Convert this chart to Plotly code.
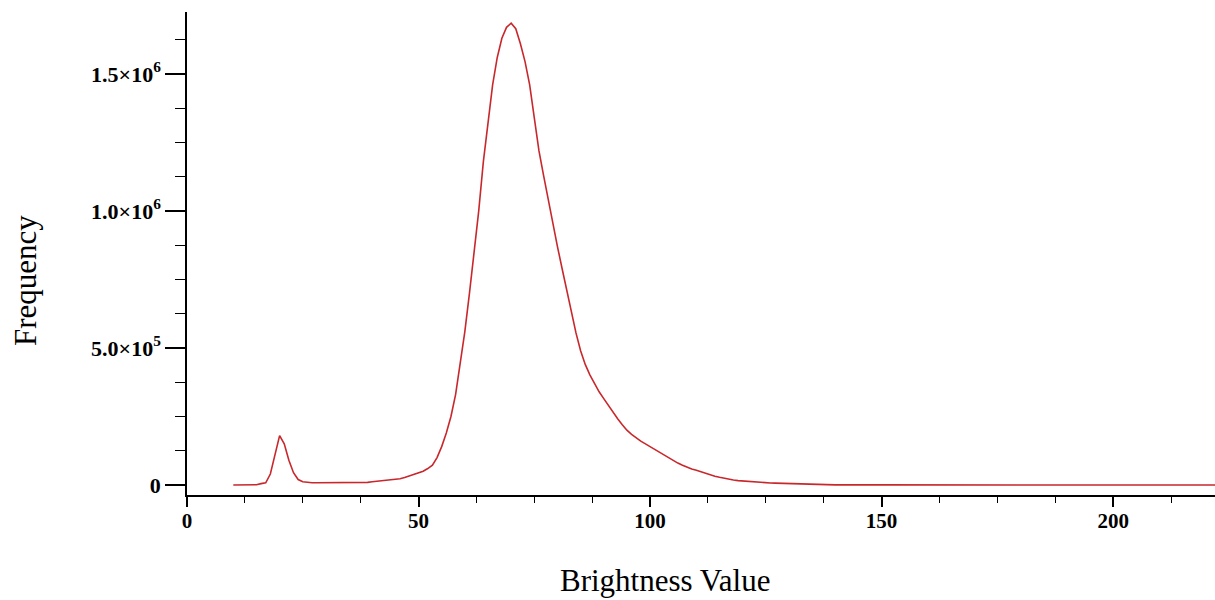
import plotly.graph_objects as go

brightness = list(range(10, 136)) + [140, 150, 160, 180, 200, 220, 240, 255]
frequency = [
    0, 0, 0, 0, 500, 1000, 5000, 8000, 40000, 110000,          # 10-19
    180000, 150000, 90000, 45000, 20000, 12000, 9000, 8000, 8000, 8000,  # 20-29
    8000, 8000, 8000, 8000, 8000, 8000, 8500, 8500, 9000, 9500,  # 30-39
    12000, 14000, 15000, 16000, 18000, 20000, 23000, 27000, 33000, 38000,  # 40-49
    44000, 50000, 60000, 72000, 100000, 140000, 190000, 250000, 330000, 440000,  # 50-59
    560000, 700000, 850000, 1000000, 1180000, 1330000, 1460000, 1560000, 1630000, 1670000,  # 60-69
    1685000, 1665000, 1610000, 1545000, 1460000, 1340000, 1220000, 1130000, 1040000, 955000,  # 70-79
    870000, 790000, 710000, 630000, 555000, 490000, 440000, 402000, 368000, 340000,  # 80-89
    315000, 290000, 265000, 242000, 220000, 200000, 185000, 172000, 160000, 150000,  # 90-99
    140000, 128000, 117000, 107000, 97000, 88000, 80000, 72000, 64000, 58000,  # 100-109
    54000, 48000, 42000, 36000, 32000, 28000, 24000, 21000, 18000, 16000,  # 110-119
    14500, 13000, 11500, 10000, 9000, 8000, 7500, 7000, 6500, 6000,  # 120-129
    5500, 3000, 2000, 1500, 1000, 800,  # 130-135
    500, 300, 200, 100, 0, 0, 0, 0,
]

y_tickvals = [0, 500000, 1000000, 1500000]
y_ticktext = ["0", "5.0×10<sup>5</sup>", "1.0×10<sup>6</sup>", "1.5×10<sup>6</sup>"]
x_tickvals = [0, 50, 100, 150, 200]
x_ticktext = ["0", "50", "100", "150", "200"]

fig = go.Figure()
fig.add_trace(go.Scatter(
    x=brightness, y=frequency, mode="lines",
    line=dict(color="#c8282c", width=1.6),
    hoverinfo="skip", showlegend=False,
))

fig.update_layout(
    width=1215, height=600,
    margin=dict(l=187, r=0, t=12, b=105),
    paper_bgcolor="white", plot_bgcolor="white",
    font=dict(family="Liberation Serif", color="black"),
    xaxis=dict(
        range=[0, 222], showgrid=False, zeroline=False,
        showline=True, linecolor="black", linewidth=1.5,
        ticks="outside", ticklen=10, tickwidth=1.5, tickcolor="black",
        tickvals=x_tickvals, ticktext=x_ticktext,
        tickfont=dict(family="Liberation Serif", size=21, weight="bold"),
        minor=dict(tickvals=[12.5 * i for i in range(1, 18) if i % 4 != 0],
                   ticks="outside", ticklen=6, tickwidth=1.2, tickcolor="black"),
    ),
    yaxis=dict(
        range=[-36500, 1726000], showgrid=False, zeroline=False,
        showline=True, linecolor="black", linewidth=1.5,
        ticks="outside", ticklen=20, tickwidth=1.5, tickcolor="black",
        tickvals=y_tickvals, ticktext=y_ticktext,
        tickfont=dict(family="Liberation Serif", size=22, weight="bold"),
        minor=dict(tickvals=[125000 * i for i in range(1, 14) if i % 4 != 0],
                   ticks="outside", ticklen=10, tickwidth=1.2, tickcolor="black"),
    ),
    annotations=[
        dict(text="Brightness Value", xref="paper", yref="paper",
             x=0.465, y=-0.176, xanchor="center", yanchor="middle",
             showarrow=False, font=dict(family="Liberation Serif", size=31)),
        dict(text="Frequency", xref="paper", yref="paper",
             x=-0.1576, y=0.445, xanchor="center", yanchor="middle", textangle=-90,
             showarrow=False, font=dict(family="Liberation Serif", size=31)),
    ],
)

try:
    fig.update_xaxes(ticklabelstandoff=-4)
except Exception:
    pass

fig.write_html("out.html",
               config={"displayModeBar": False},
               post_script="document.body.style.margin='0';document.body.style.overflow='hidden';")
